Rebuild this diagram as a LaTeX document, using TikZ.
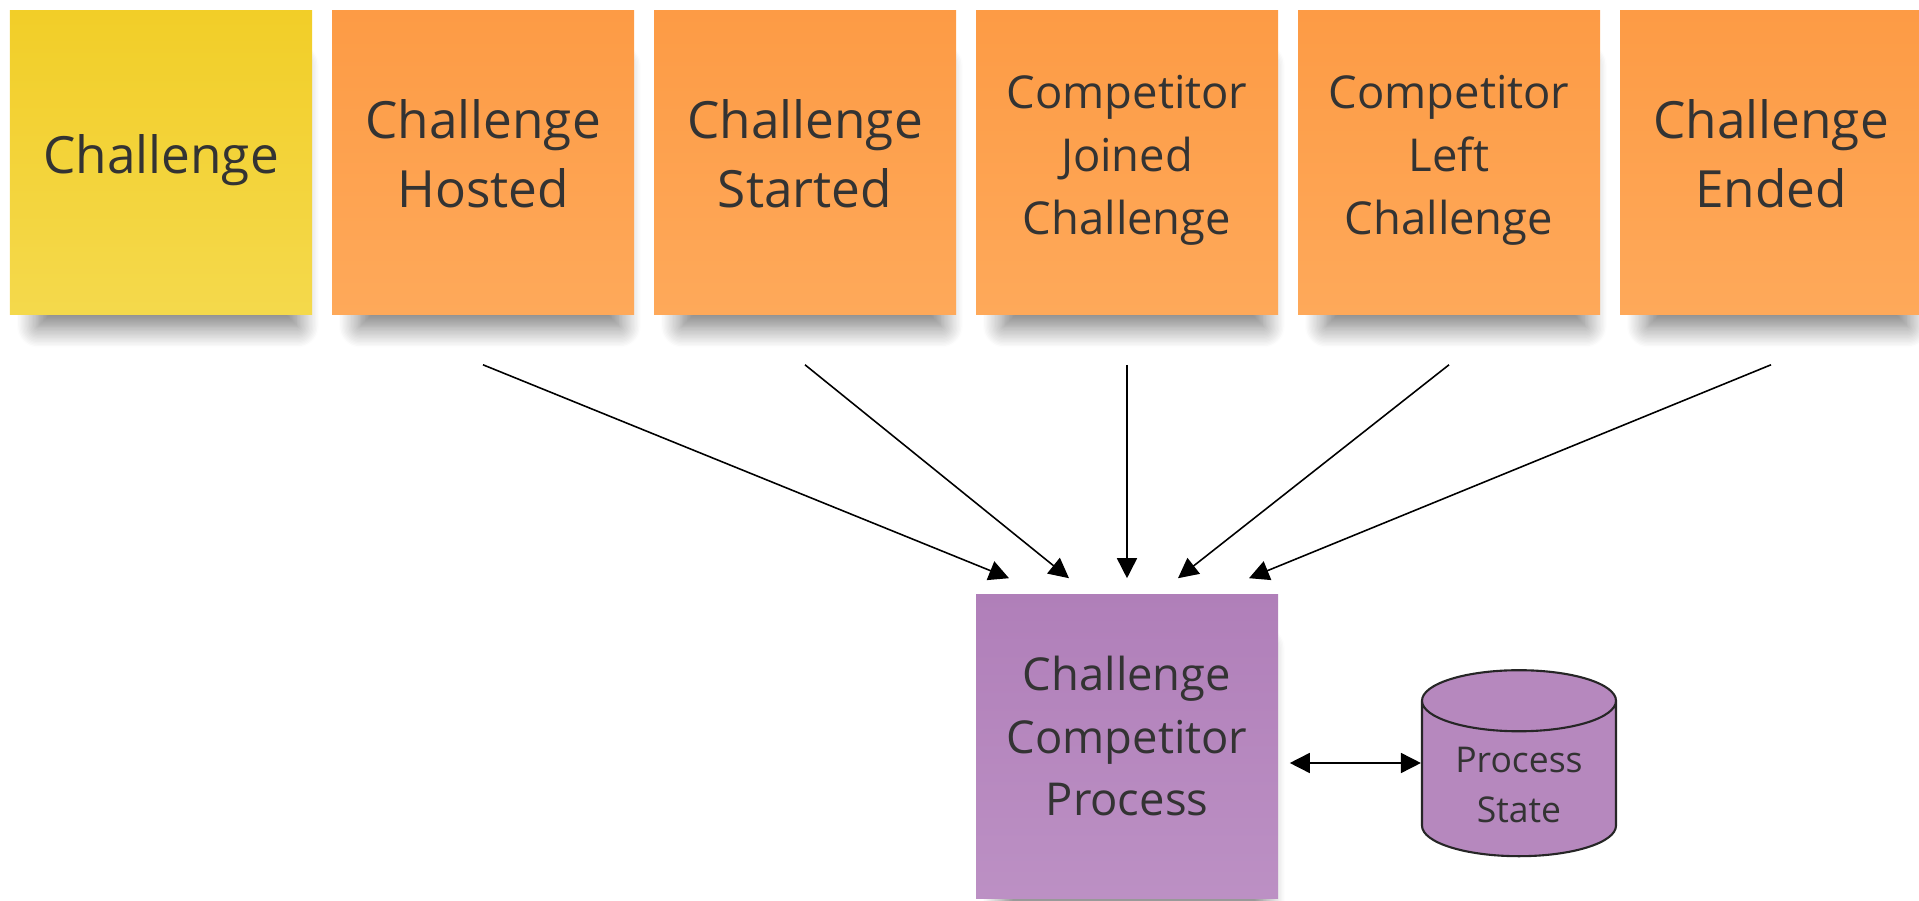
\documentclass[tikz,border=0pt]{standalone}
\usepackage{fontspec}
\setmainfont{Open Sans}
\usepackage{xcolor}
\usepackage{tikz}
\usetikzlibrary{arrows.meta,positioning,shapes.geometric,shadows.blur}

\definecolor{yellowtop}{HTML}{F2CE28}
\definecolor{yellowbot}{HTML}{F4D94C}
\definecolor{orangetop}{HTML}{FD9B45}
\definecolor{orangebot}{HTML}{FEA95A}
\definecolor{purpletop}{HTML}{B07FB9}
\definecolor{purplebot}{HTML}{BC90C4}
\definecolor{storefill}{HTML}{B688BE}
\definecolor{inkgray}{HTML}{333333}

\newcommand{\bigtext}{\fontsize{14.6}{19.6}\selectfont}
\newcommand{\smalltext}{\fontsize{12.9}{17.9}\selectfont}
\newcommand{\tinytext}{\fontsize{10.1}{14.3}\selectfont}

\tikzset{
  sticky/.style={minimum width=3.02cm, minimum height=3.04cm, inner sep=0pt,
    blur shadow={shadow xshift=0.08cm, shadow yshift=-0.38cm, shadow scale=0.86,
      shadow blur radius=7pt, shadow blur steps=16, shadow opacity=55}},
  notetext/.style={align=center, text=inkgray, font=\bigtext, yshift=0.09cm},
  onenote/.style={notetext, yshift=-0.06cm},
  smallnote/.style={align=center, text=inkgray, font=\smalltext, yshift=0.03cm},
  aggregate/.style={sticky, top color=yellowtop, bottom color=yellowbot},
  event/.style={sticky, top color=orangetop, bottom color=orangebot},
  policy/.style={sticky, top color=purpletop, bottom color=purplebot},
  store/.style={cylinder, shape border rotate=90, aspect=0.48, draw=black!85,
    line width=0.6pt, fill=storefill, minimum width=1.94cm, minimum height=1.86cm,
    inner sep=0pt, align=center, font=\tinytext},
  storetext/.style={align=center, text=inkgray, font=\tinytext, yshift=-0.06cm}
}

\begin{document}
\begin{tikzpicture}[>={Triangle[length=0.2cm,width=0.2cm]}, line width=0.45pt, node distance=3.22cm]
  \useasboundingbox (0,0) rectangle (19.19,9);

  % events on the timeline
  \node[aggregate, label={[onenote]center:Challenge}] (ch) at (1.61,7.37) {};
  \node[event, label={[notetext]center:{Challenge\\Hosted}}]  (hosted)  [right of=ch]     {};
  \node[event, label={[notetext]center:{Challenge\\Started}}] (started) [right of=hosted] {};
  \node[event, label={[smallnote]center:{Competitor\\Joined\\Challenge}}] (joined) [right of=started] {};
  \node[event, label={[smallnote]center:{Competitor\\Left\\Challenge}}]   (left)   [right of=joined]  {};
  \node[event, label={[notetext]center:{Challenge\\Ended}}]   (ended)   [right of=left]   {};

  % process manager and its state
  \node[policy, label={[smallnote, yshift=0.07cm]center:{Challenge\\Competitor\\Process}}] (proc)
    [below of=joined, node distance=5.83cm] {};
  \node[store, label={[storetext]center:{Process\\State}}] (state)
    [right of=proc, node distance=3.92cm, yshift=-0.33cm] {\phantom{Process}\\\phantom{State}};

  \path[->] ([yshift=-0.49cm]hosted.south)  edge ([xshift=-1.18cm,yshift=0.15cm]proc.north)
            ([yshift=-0.49cm]started.south) edge ([xshift=-0.58cm,yshift=0.15cm]proc.north)
            ([yshift=-0.49cm]joined.south)  edge ([yshift=0.15cm]proc.north)
            ([yshift=-0.49cm]left.south)    edge ([xshift=0.51cm,yshift=0.15cm]proc.north)
            ([yshift=-0.49cm]ended.south)   edge ([xshift=1.22cm,yshift=0.15cm]proc.north);
  \draw[<->, shorten <=0.11cm] ([yshift=0.16cm]state.west -| proc.east) -- ([yshift=0.16cm]state.west);
\end{tikzpicture}
\end{document}
